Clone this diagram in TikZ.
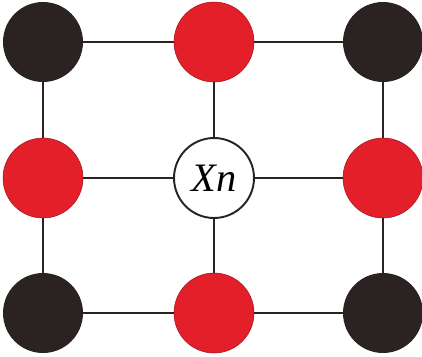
\documentclass[tikz,border=0pt]{standalone}
\usepackage{fontspec}
\setmainfont{Liberation Serif}
\usepackage{xcolor}
\usepackage{tikz}
\definecolor{darkdot}{HTML}{2B2322}
\definecolor{reddot}{HTML}{E3202A}

\begin{document}
\begin{tikzpicture}[x=0.02cm,y=-0.02cm,
    dot/.style={circle,minimum size=1.6cm,inner sep=0pt},
    corner/.style={dot,fill=darkdot},
    side/.style={dot,fill=reddot,draw=reddot!70!black,line width=0.3pt},
    centre/.style={dot,draw=darkdot,line width=1.1pt,fill=white,font=\fontsize{23}{25}\selectfont\itshape},
    link/.style={draw=darkdot,line width=1.1pt}]
    \useasboundingbox (0,0) rectangle (422,356);
    \node[corner] (tl) at (43,42) {};
    \node[side] (tm) at (214,42) {};
    \node[corner] (tr) at (383,42) {};
    \node[side] (ml) at (43,178) {};
    \node[centre] (mm) at (214,178) {Xn};
    \node[side] (mr) at (383,178) {};
    \node[corner] (bl) at (43,313) {};
    \node[side] (bm) at (214,313) {};
    \node[corner] (br) at (383,313) {};
    \draw[link] (tl)--(tm) (tm)--(tr) (ml)--(mm) (mm)--(mr) (bl)--(bm) (bm)--(br);
    \draw[link] (tl)--(ml) (ml)--(bl) (tm)--(mm) (mm)--(bm) (tr)--(mr) (mr)--(br);
  \end{tikzpicture}
\end{document}
